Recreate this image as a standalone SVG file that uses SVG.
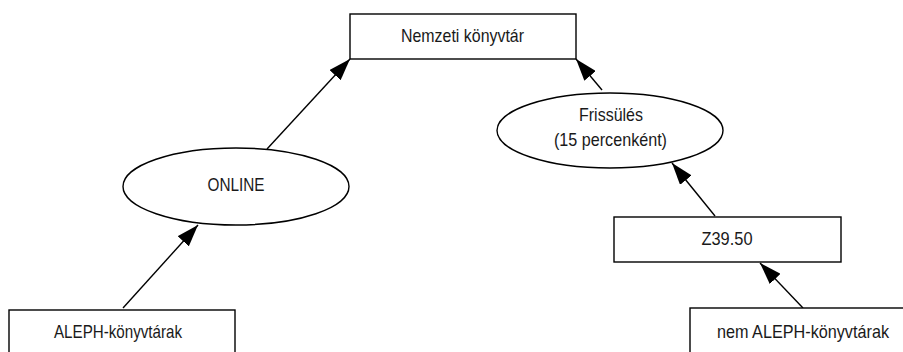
<svg xmlns="http://www.w3.org/2000/svg" width="903" height="352" viewBox="0 0 903 352">
<style>
  .box { fill: #ffffff; stroke: #000000; stroke-width: 1.4; }
  .ell { fill: #ffffff; stroke: #000000; stroke-width: 1.4; }
  .lbl { font-family: "Liberation Sans", Arial, sans-serif; font-size: 18.5px; fill: #1a1a1a; text-anchor: middle; }
  .edge { stroke: #000000; stroke-width: 1.4; fill: none; marker-end: url(#arrow); }
</style>
<defs>
  <marker id="arrow" markerUnits="userSpaceOnUse" markerWidth="22" markerHeight="15" viewBox="0 0 22 15" refX="22" refY="7.5" orient="auto">
    <path d="M0,0 L22,7.5 L0,15 Z" fill="#000000"/>
  </marker>
</defs>
<rect width="903" height="352" fill="#ffffff"/>
<g id="connectors">
  <line class="edge" x1="267" y1="149" x2="350" y2="59"/>
  <line class="edge" x1="602" y1="90" x2="576" y2="59"/>
  <line class="edge" x1="123" y1="308" x2="198" y2="225"/>
  <line class="edge" x1="715" y1="216" x2="672" y2="163"/>
  <line class="edge" x1="803" y1="308" x2="760" y2="263"/>
</g>
<g id="nemzeti">
  <rect class="box" x="350" y="14" width="226" height="45"/>
  <text class="lbl" x="462.5" y="42" textLength="123" lengthAdjust="spacingAndGlyphs">Nemzeti könyvtár</text>
</g>
<g id="frissules">
  <ellipse class="ell" cx="610" cy="130.5" rx="113" ry="37.5"/>
  <text class="lbl" x="611" y="121" textLength="64" lengthAdjust="spacingAndGlyphs">Frissülés</text>
  <text class="lbl" x="610.5" y="146" textLength="113" lengthAdjust="spacingAndGlyphs">(15 percenként)</text>
</g>
<g id="online">
  <ellipse class="ell" cx="236" cy="186.5" rx="113" ry="38.5"/>
  <text class="lbl" x="236" y="191" textLength="57" lengthAdjust="spacingAndGlyphs">ONLINE</text>
</g>
<g id="z3950">
  <rect class="box" x="614" y="217" width="227" height="45"/>
  <text class="lbl" x="727" y="245" textLength="51" lengthAdjust="spacingAndGlyphs">Z39.50</text>
</g>
<g id="aleph">
  <rect class="box" x="9" y="310" width="226" height="44"/>
  <text class="lbl" x="118" y="338" textLength="128" lengthAdjust="spacingAndGlyphs">ALEPH-könyvtárak</text>
</g>
<g id="nemaleph">
  <rect class="box" x="690" y="308" width="214" height="46"/>
  <text class="lbl" x="803" y="338" textLength="172" lengthAdjust="spacingAndGlyphs">nem ALEPH-könyvtárak</text>
</g>
</svg>
